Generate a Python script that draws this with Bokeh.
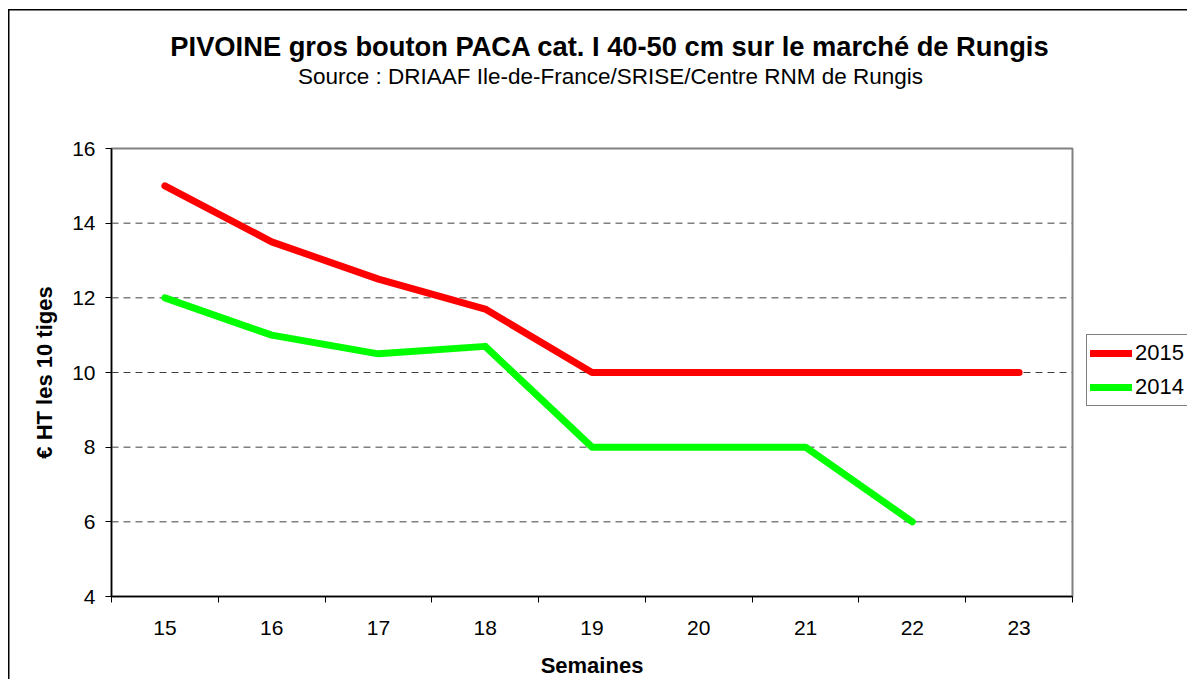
from bokeh.plotting import figure
from bokeh.models import Range1d, FixedTicker, Legend, LegendItem, Label
from bokeh.embed import file_html
from bokeh.resources import INLINE
import math

# ---- data ----
weeks = [15, 16, 17, 18, 19, 20, 21, 22, 23]
week_labels = ["15", "16", "17", "18", "19", "20", "21", "22", "23"]
prices_2015 = [15, 13.5, 12.5, 11.7, 10, 10, 10, 10, 10]
weeks_2014 = [15, 16, 17, 18, 19, 20, 21, 22]
prices_2014 = [12, 11, 10.5, 10.7, 8, 8, 8, 6]
y_ticks = [4, 6, 8, 10, 12, 14, 16]
series_names = ["2015", "2014"]

title_text = "PIVOINE gros bouton PACA cat. I 40-50 cm sur le marché de Rungis"
subtitle_text = "Source : DRIAAF Ile-de-France/SRISE/Centre RNM de Rungis"
x_title = "Semaines"
y_title = "€ HT les 10 tiges"

FONT = "Liberation Sans"

# ---- layout constants (canvas pixels) ----
W, H = 1187, 679
PLOT_L, PLOT_R, PLOT_T, PLOT_B = 111, 1072, 148, 596   # plot area
x0, x1 = weeks[0] - 0.5, weeks[-1] + 0.5
y0, y1 = y_ticks[0], y_ticks[-1]
px_per_x = (PLOT_R - PLOT_L) / (x1 - x0)
px_per_y = (PLOT_B - PLOT_T) / (y1 - y0)
x_start = x0 - PLOT_L / px_per_x
x_end = x0 + (W - PLOT_L) / px_per_x
y_start = y0 - (H - PLOT_B) / px_per_y
y_end = y0 + PLOT_B / px_per_y

p = figure(width=W, height=H, output_backend="svg", toolbar_location=None,
           x_range=Range1d(x_start, x_end), y_range=Range1d(y_start, y_end),
           min_border_left=0, min_border_right=0,
           min_border_top=0, min_border_bottom=0)
p.border_fill_color = None
p.background_fill_color = None
p.outline_line_color = None
p.styles = {
    "background-image": "linear-gradient(#000000, #000000), linear-gradient(#000000, #000000)",
    "background-size": "1.5px 100%, 100% 1.5px",
    "background-position": "8px 9px, 8px 9px",
    "background-repeat": "no-repeat",
    "background-color": "white",
}
p.xgrid.visible = False
p.ygrid.visible = False

# horizontal dashed grid lines, limited to plot area
grid_y = y_ticks[1:-1]
p.segment(x0=[x0] * len(grid_y), x1=[x1] * len(grid_y), y0=grid_y, y1=grid_y,
          line_color="#404040", line_dash="7 5", line_width=1)

# plot-area border (grey top / right)
p.quad(left=[x0], right=[x1], bottom=[y0], top=[y1], fill_color=None,
       line_color="#808080", line_width=2)

# x axis (fixed at y0)
p.xaxis.fixed_location = y0
p.xaxis.bounds = (x0, x1)
p.xaxis.ticker = FixedTicker(ticks=weeks, minor_ticks=[w - 0.5 for w in weeks] + [x1])
p.xaxis.major_label_overrides = {w: l for w, l in zip(weeks, week_labels)}
p.xaxis.major_tick_out = 0
p.xaxis.major_tick_in = 0
p.xaxis.minor_tick_out = 6
p.xaxis.minor_tick_in = 0
p.xaxis.minor_tick_line_color = "black"
p.xaxis.major_label_standoff = 18

# y axis (fixed at x0)
p.yaxis.fixed_location = x0
p.yaxis.bounds = (y0, y1)
p.yaxis.ticker = FixedTicker(ticks=y_ticks)
p.yaxis.major_tick_out = 6
p.yaxis.major_tick_in = 0
p.yaxis.minor_tick_line_color = None
p.yaxis.major_label_standoff = 10

for ax in (p.xaxis, p.yaxis):
    ax.axis_line_color = "black"
    ax.axis_line_width = 1.5
    ax.major_tick_line_color = "black"
    ax.major_label_text_font = FONT
    ax.major_label_text_font_size = "21px"
    ax.major_label_text_color = "black"

# lines
r15 = p.line(weeks, prices_2015, line_color="#FF0000", line_width=7,
             line_cap="round", line_join="round")
r14 = p.line(weeks_2014, prices_2014, line_color="#00FF00", line_width=7,
             line_cap="round", line_join="round")

legend = Legend(items=[LegendItem(label=series_names[0], renderers=[r15]),
                       LegendItem(label=series_names[1], renderers=[r14])],
                location=(1086, H - 406), orientation="vertical")
legend.label_text_font = FONT
legend.label_text_font_size = "22px"
legend.label_text_color = "black"
legend.glyph_width = 42
legend.glyph_height = 30
legend.label_height = 30
legend.label_standoff = 3
legend.padding = 3
legend.spacing = 4
legend.margin = 0
legend.border_line_color = "black"
legend.border_line_width = 1
legend.background_fill_color = "white"
legend.background_fill_alpha = 1
p.add_layout(legend, "center")

# texts (screen units, relative to canvas bottom-left); y given as baseline in canvas px
def add_text(txt, cx, base_y, size_px, bold=False):
    mid_y = base_y - 0.3465 * size_px
    p.add_layout(Label(x=cx, y=H - mid_y, x_units="screen", y_units="screen",
                       text=txt, text_align="center", text_baseline="middle",
                       text_font=FONT, text_font_size=f"{size_px}px",
                       text_font_style="bold" if bold else "normal", text_color="black"))

add_text(title_text, 609.5, 55, 27.3, bold=True)
add_text(subtitle_text, 610, 84, 22.5)
add_text(x_title, (PLOT_L + PLOT_R) / 2, 673, 22, bold=True)

p.add_layout(Label(x=44, y=H - (PLOT_T + PLOT_B) / 2, x_units="screen", y_units="screen",
                   text=y_title, text_align="center", text_baseline="middle",
                   angle=math.pi / 2, text_font=FONT, text_font_size="22px",
                   text_font_style="bold", text_color="black"))

open("out.html", "w").write(file_html(p, INLINE))
